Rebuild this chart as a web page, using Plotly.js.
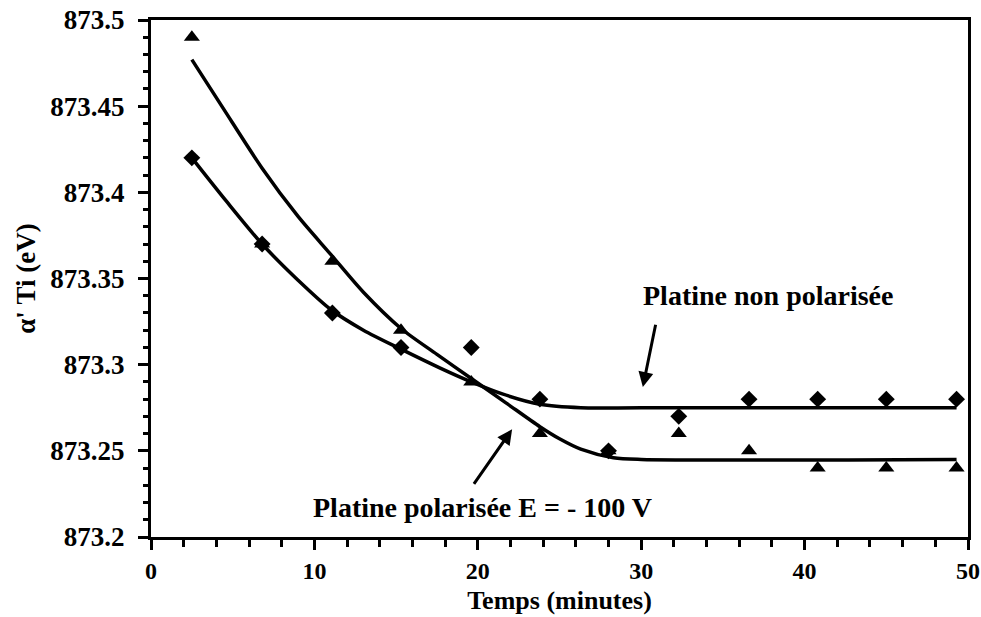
<!DOCTYPE html>
<html>
<head>
<meta charset="utf-8">
<script src="https://cdn.plot.ly/plotly-3.0.1.min.js"></script>
<style>html,body{margin:0;padding:0;background:#fff;}#chart{width:981px;height:617px;}</style>
</head>
<body>
<div id="chart"></div>
<script>
// Measured points
const timeNonPol = [2.5, 6.8, 11.1, 15.3, 19.6, 23.8, 28.0, 32.3, 36.6, 40.8, 45.0, 49.3];
const valNonPol  = [873.42, 873.37, 873.33, 873.31, 873.31, 873.28, 873.25, 873.27, 873.28, 873.28, 873.28, 873.28];
const timePol    = [2.5, 6.8, 11.1, 15.3, 19.6, 23.8, 28.0, 32.3, 36.6, 40.8, 45.0, 49.3];
const valPol     = [873.49, 873.37, 873.36, 873.32, 873.29, 873.26, 873.25, 873.26, 873.25, 873.24, 873.24, 873.24];

// Fitted curves
const fitTimeNonPol = [2.5, 4.6, 6.8, 9.0, 11.0, 13.0, 15.3, 17.7, 19.6, 21.5, 23.8, 26.3, 30.0, 49.3];
const fitValNonPol  = [873.42, 873.395, 873.37, 873.349, 873.332, 873.32, 873.309, 873.298, 873.29, 873.283, 873.277, 873.275, 873.275, 873.275];
const fitTimePol    = [2.5, 4.4, 6.8, 9.0, 11.0, 13.0, 15.3, 17.5, 19.6, 21.7, 23.8, 25.0, 26.3, 28.3, 30.0, 49.3];
const fitValPol     = [873.477, 873.449, 873.414, 873.386, 873.364, 873.342, 873.321, 873.306, 873.292, 873.278, 873.264, 873.257, 873.251, 873.246, 873.245, 873.245];

const xTitle = 'Temps (minutes)';
const yTitle = "α' Ti (eV)";
const labelNonPol = 'Platine non polarisée';
const labelPol = 'Platine polarisée E = - 100 V';

const FONT = "'Liberation Serif', 'Times New Roman', serif";
const bold = (size) => ({family: FONT, size: size, color: '#000', weight: 'bold'});

const traces = [
  {x: fitTimeNonPol, y: fitValNonPol, mode: 'lines', line: {color: '#000', width: 3.5, shape: 'spline', smoothing: 0.8}, hoverinfo: 'skip'},
  {x: fitTimePol, y: fitValPol, mode: 'lines', line: {color: '#000', width: 3.5, shape: 'spline', smoothing: 0.8}, hoverinfo: 'skip'},
  {x: timeNonPol, y: valNonPol, mode: 'markers', marker: {symbol: 'diamond', size: 13, color: '#000'}},
  {x: timePol, y: valPol, mode: 'markers', marker: {symbol: 'triangle-up', size: 14, color: '#000'}}
];

const layout = {
  width: 981, height: 617,
  margin: {l: 151, r: 13, t: 20, b: 80},
  paper_bgcolor: '#fff', plot_bgcolor: '#fff',
  showlegend: false,
  font: {family: FONT, color: '#000'},
  xaxis: {
    range: [0, 50], dtick: 10, tick0: 0,
    showgrid: false, zeroline: false,
    showline: true, linecolor: '#000', linewidth: 3, mirror: true,
    ticks: 'outside', ticklen: 10, tickwidth: 3, tickcolor: '#000',
    minor: {dtick: 2, ticks: 'outside', ticklen: 7, tickwidth: 3, tickcolor: '#000', showgrid: false},
    tickfont: bold(24), ticklabelstandoff: 0, ticklabeloverflow: 'allow',
    title: {text: xTitle, font: bold(26), standoff: 9}
  },
  yaxis: {
    range: [873.2, 873.5], dtick: 0.05, tick0: 873.2,
    showgrid: false, zeroline: false,
    showline: true, linecolor: '#000', linewidth: 3, mirror: true,
    ticks: 'outside', ticklen: 10, tickwidth: 3, tickcolor: '#000',
    minor: {dtick: 0.01, ticks: 'outside', ticklen: 5, tickwidth: 3, tickcolor: '#000', showgrid: false},
    tickfont: bold(27), ticklabelstandoff: 8, ticklabeloverflow: 'allow',
    title: {text: yTitle, font: bold(27), standoff: 7}
  },
  annotations: [
    {x: 37.73, y: 873.34, xref: 'x', yref: 'y', text: labelNonPol, showarrow: false, font: bold(28)},
    {x: 20.26, y: 873.2174, xref: 'x', yref: 'y', text: labelPol, showarrow: false, font: bold(28)},
    {x: 30.1, y: 873.287, xref: 'x', yref: 'y', ax: 30.9, ay: 873.324, axref: 'x', ayref: 'y',
     text: '', showarrow: true, arrowhead: 2, arrowsize: 1, arrowwidth: 3, arrowcolor: '#000'},
    {x: 22.1, y: 873.2625, xref: 'x', yref: 'y', ax: 19.7, ay: 873.230, axref: 'x', ayref: 'y',
     text: '', showarrow: true, arrowhead: 2, arrowsize: 1, arrowwidth: 3, arrowcolor: '#000'}
  ]
};

Plotly.newPlot('chart', traces, layout, {staticPlot: true, displayModeBar: false});
</script>
</body>
</html>
